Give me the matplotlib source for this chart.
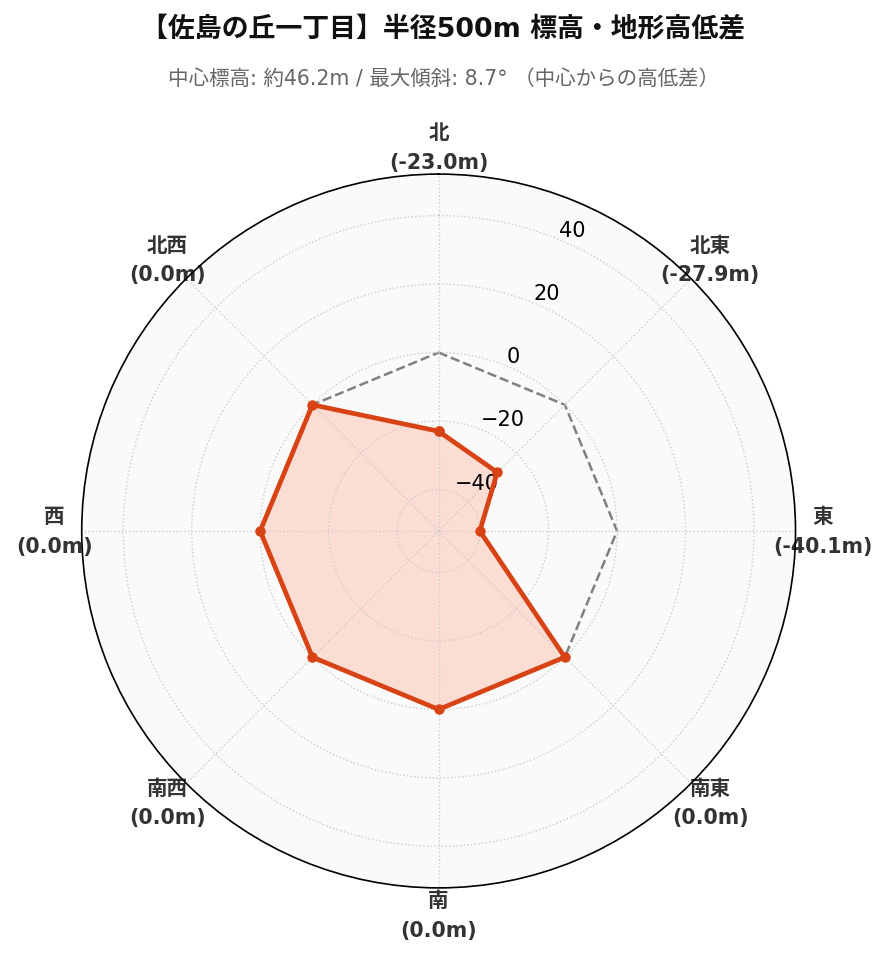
import numpy as np
import matplotlib
matplotlib.use("Agg")
import matplotlib.pyplot as plt

plt.rcParams['font.family'] = ['DejaVu Sans', 'Noto Sans CJK JP']

directions = ["北", "北東", "東", "南東", "南", "南西", "西", "北西"]
diffs = [-23.0, -27.9, -40.1, 0.0, 0.0, 0.0, 0.0, 0.0]
baseline = [0.0] * 8
radial_ticks = [-40, -20, 0, 20, 40]

title = "【佐島の丘一丁目】半径500m 標高・地形高低差"
subtitle = "中心標高: 約46.2m / 最大傾斜: 8.7° （中心からの高低差）"

angles = np.linspace(0, 2 * np.pi, len(directions), endpoint=False)
ang_c = np.append(angles, angles[0])
vals_c = np.append(diffs, diffs[0])
base_c = np.append(baseline, baseline[0])

lim = max(abs(v) for v in diffs) * 1.3

fig = plt.figure(figsize=(8.87, 9.62), dpi=100)
ax = fig.add_axes([0.092, 0.076, 0.805, 0.742], projection="polar")
ax.set_theta_zero_location("N")
ax.set_theta_direction(-1)
ax.set_facecolor("#fafafa")

ax.plot(ang_c, base_c, color="gray", linestyle="--", linewidth=1.8, zorder=1.3)
ax.fill(ang_c, vals_c, color="#ff8a65", alpha=0.25, zorder=1.2)
ax.plot(ang_c, vals_c, color="#d84315", linewidth=3.4, marker="o", markersize=6.5, zorder=3)

ax.set_ylim(-lim, lim)
ax.set_yticks(radial_ticks)
ax.set_yticklabels([f"{t}".replace("-", "\u2212") for t in radial_ticks], fontsize=15)
ax.set_rlabel_position(22.5)

ax.set_xticks(angles)
ax.set_xticklabels([f"{d}\n({v:.1f}m)" for d, v in zip(directions, diffs)],
                   fontsize=14.8, fontweight="bold", color="#333333", linespacing=1.6)
ax.tick_params(axis="x", pad=9)
ax.grid(color="#cccccc", linestyle=":", linewidth=1.0)
ax.spines["polar"].set_color("black")
ax.spines["polar"].set_linewidth(1.2)

fig.text(0.5, 0.969, title, ha="center", va="center", fontsize=19.4, fontweight="bold", color="#111111")
fig.text(0.5, 0.918, subtitle, ha="center", va="center", fontsize=14.8, color="#666666")

fig.savefig("out.png", dpi=100, facecolor="white")
